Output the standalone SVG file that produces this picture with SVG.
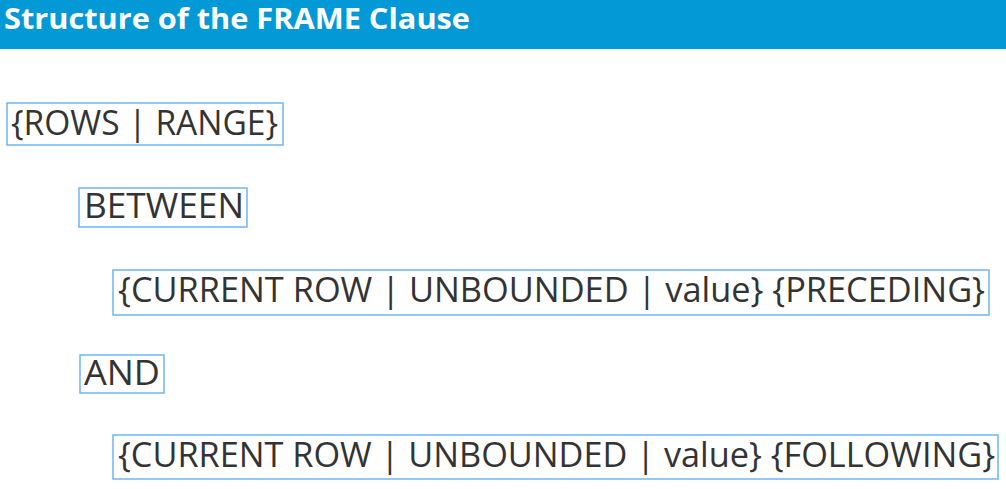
<svg xmlns="http://www.w3.org/2000/svg" width="1006" height="489" viewBox="0 0 1006 489">
<style>
.title{font-family:"Open Sans","Noto Sans",sans-serif;font-weight:bold;font-size:29px;fill:#ffffff}
.t{font-family:"Open Sans","Noto Sans",sans-serif;font-size:34px;fill:#333333}
.box{fill:none;stroke:#6fb5f7;stroke-width:1.5}
</style>
<rect x="0" y="0" width="1006" height="49" fill="#0398d6"/>
<text class="title" x="4" y="29" textLength="466" lengthAdjust="spacingAndGlyphs">Structure of the FRAME Clause</text>
<g id="rows-range">
<rect class="box" x="7" y="103" width="276" height="42"/>
<text class="t" x="11" y="135" textLength="267" lengthAdjust="spacingAndGlyphs">{ROWS | RANGE}</text>
</g>
<g id="between">
<rect class="box" x="79" y="188" width="168" height="39"/>
<text class="t" x="84" y="218" textLength="160" lengthAdjust="spacingAndGlyphs">BETWEEN</text>
</g>
<g id="preceding">
<rect class="box" x="113" y="270" width="876" height="45"/>
<text class="t" x="118" y="302" textLength="867" lengthAdjust="spacingAndGlyphs">{CURRENT ROW | UNBOUNDED | value} {PRECEDING}</text>
</g>
<g id="and">
<rect class="box" x="80" y="355" width="84" height="38"/>
<text class="t" x="84" y="385" textLength="76" lengthAdjust="spacingAndGlyphs">AND</text>
</g>
<g id="following">
<rect class="box" x="113" y="435" width="885" height="44"/>
<text class="t" x="118" y="467" textLength="877" lengthAdjust="spacingAndGlyphs">{CURRENT ROW | UNBOUNDED | value} {FOLLOWING}</text>
</g>
<g id="connectors"></g>
</svg>
